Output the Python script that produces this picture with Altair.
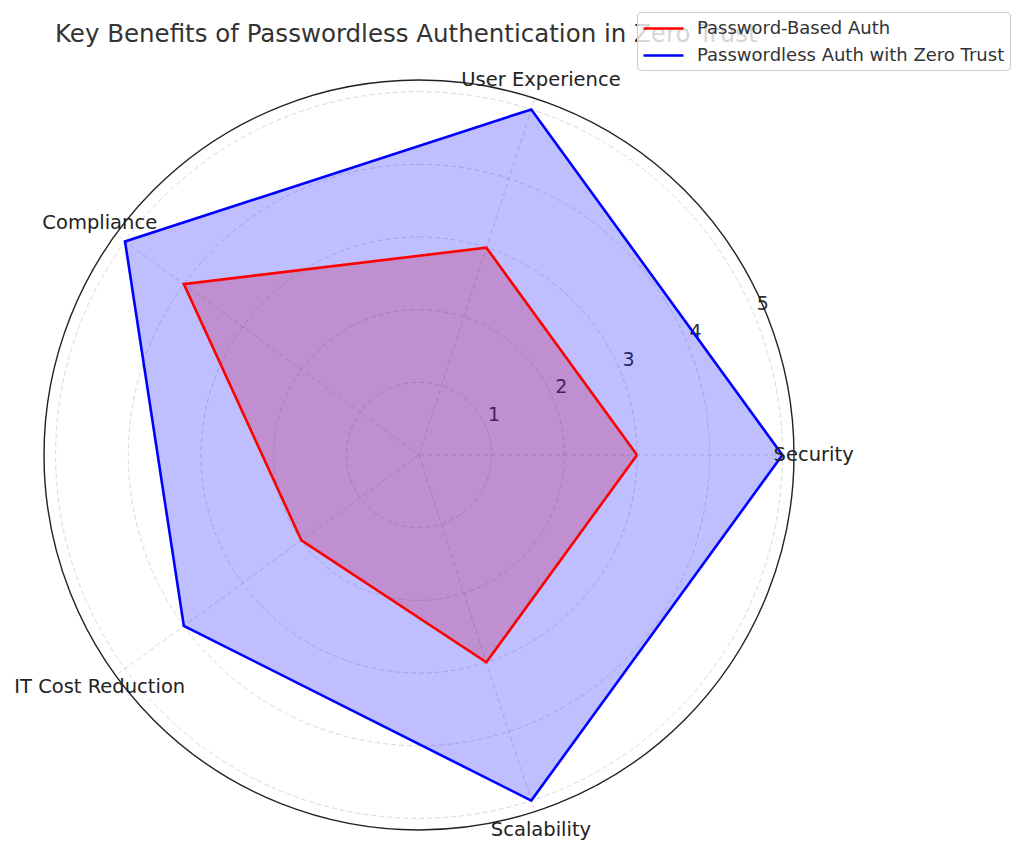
import math
import altair as alt
import pandas as pd

categories = ["Security", "User Experience", "Compliance", "IT Cost Reduction", "Scalability"]
series_names = ["Password-Based Auth", "Passwordless Auth with Zero Trust"]
password_based = [3, 3, 4, 2, 3]
passwordless = [5, 5, 5, 4, 5]
radial_ticks = [1, 2, 3, 4, 5]
colors = ["#ff0000", "#0000ff"]

R = 5.16          # radial axis limit
PX = 375          # pixel radius of the outer circle
N = len(categories)
FONT = "DejaVu Sans"

rows = []
for name, vals in zip(series_names, [password_based, passwordless]):
    for i in range(N + 1):
        rows.append({"series": name, "idx": i, "category": categories[i % N], "value": vals[i % N]})
poly = pd.DataFrame(rows)
cats = pd.DataFrame({"idx": list(range(N)), "category": categories})
ticks = pd.DataFrame({"t": radial_ticks})
circles = pd.DataFrame({"r": radial_ticks})
outer = pd.DataFrame({"r": [R]})

xs = alt.Scale(domain=[-R, R], nice=False, zero=False)
ys = alt.Scale(domain=[-R, R], nice=False, zero=False)
rs = alt.Scale(type="linear", domain=[0, R], range=[0, PX], zero=True, nice=False)
cs = alt.Scale(domain=series_names, range=colors)

ang = f"datum.idx * 2 * PI / {N}"

grid = alt.Chart(circles).mark_arc(
    theta=0, theta2=2 * math.pi, fillOpacity=0, stroke="#cfcfcf",
    strokeWidth=0.8, strokeDash=[5, 3]
).encode(radius=alt.Radius("r:Q", scale=rs, stack=False))

spokes = alt.Chart(cats).transform_calculate(
    x0="0", y0="0",
    xe=f"{R} * cos({ang})", ye=f"{R} * sin({ang})"
).mark_rule(color="#cfcfcf", strokeWidth=0.8, strokeDash=[5, 3]).encode(
    x=alt.X("x0:Q", scale=xs, axis=None),
    y=alt.Y("y0:Q", scale=ys, axis=None),
    x2="xe:Q", y2="ye:Q",
)

tick_text = alt.Chart(ticks).transform_calculate(
    x="datum.t * cos(22.5 * PI / 180)", y="datum.t * sin(22.5 * PI / 180)"
).mark_text(font=FONT, fontSize=19, color="#333333", dx=8, dy=-12).encode(
    x=alt.X("x:Q", scale=xs, axis=None),
    y=alt.Y("y:Q", scale=ys, axis=None),
    text=alt.Text("t:Q"),
)

def fill_layer(name, col):
    return alt.Chart(poly).transform_filter(
        alt.datum.series == name
    ).transform_calculate(
        x=f"datum.value * cos({ang})", y=f"datum.value * sin({ang})"
    ).mark_line(fill=col, fillOpacity=0.25, strokeOpacity=0).encode(
        x=alt.X("x:Q", scale=xs, axis=None),
        y=alt.Y("y:Q", scale=ys, axis=None),
        order="idx:Q",
    )

fills = [fill_layer(n, c) for n, c in zip(series_names, colors)]

lines = alt.Chart(poly).transform_calculate(
    x=f"datum.value * cos({ang})", y=f"datum.value * sin({ang})"
).mark_line(strokeWidth=2.6).encode(
    x=alt.X("x:Q", scale=xs, axis=None),
    y=alt.Y("y:Q", scale=ys, axis=None),
    order="idx:Q",
    color=alt.Color(
        "series:N", scale=cs,
        legend=alt.Legend(
            title=None, orient="none", legendX=593, legendY=-68,
            symbolType="M-2,0H2", symbolSize=400, symbolStrokeWidth=2.6,
            symbolOffset=10,
            labelFont=FONT, labelFontSize=18, labelColor="#333333",
            labelOffset=22, labelLimit=500, rowPadding=6, padding=5,
            fillColor="rgba(255,255,255,0.8)", strokeColor="#cccccc",
            cornerRadius=4, zindex=2,
        ),
    ),
)

outer_circle = alt.Chart(outer).mark_arc(
    theta=0, theta2=2 * math.pi, fillOpacity=0, stroke="#222222", strokeWidth=1.4
).encode(radius=alt.Radius("r:Q", scale=rs, stack=False))

cat_text = alt.Chart(cats).transform_calculate(
    x=f"5.43 * cos({ang})", y=f"5.43 * sin({ang})"
).mark_text(font=FONT, fontSize=19.5, color="#222222", align="center", baseline="middle").encode(
    x=alt.X("x:Q", scale=xs, axis=None),
    y=alt.Y("y:Q", scale=ys, axis=None),
    text="category:N",
)

chart = alt.layer(grid, spokes, tick_text, *fills, lines, outer_circle, cat_text).properties(
    width=750, height=750,
    autosize=alt.AutoSizeParams(type="none"),
    padding={"left": 36, "top": 72, "right": 222, "bottom": 12},
    background="white",
    title=alt.TitleParams(
        "Key Benefits of Passwordless Authentication in Zero Trust",
        font=FONT, fontSize=24.5, fontWeight="normal", color="#333333",
        anchor="start", frame="group", dx=11, offset=0, dy=36, zindex=0,
    ),
).configure_view(stroke="transparent", strokeWidth=0)

chart.save("out.html", embed_options={"renderer": "svg", "actions": False})
